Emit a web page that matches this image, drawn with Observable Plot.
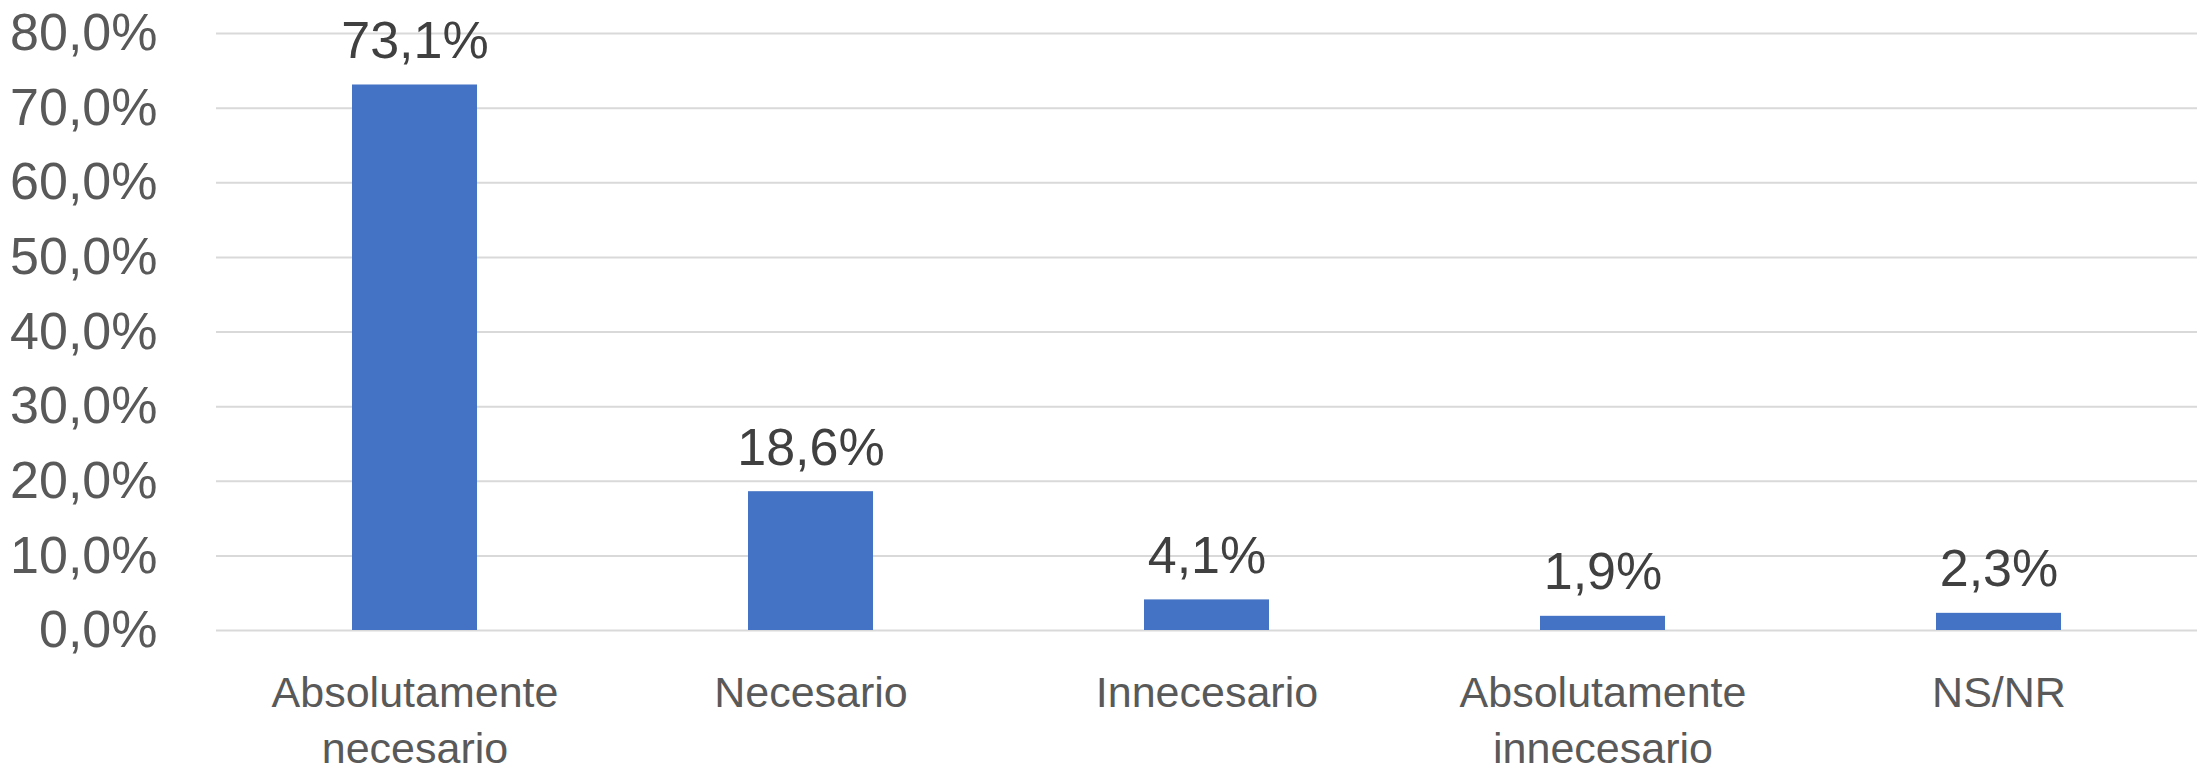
<!DOCTYPE html>
<html><head><meta charset="utf-8">
<script src="https://cdn.jsdelivr.net/npm/d3@7"></script>
<script src="https://cdn.jsdelivr.net/npm/@observablehq/plot@0.6"></script>
<style>html,body{margin:0;padding:0;background:#fff;}</style>
</head><body><div id="chart"></div>
<script>
const categories = ["Absolutamente necesario", "Necesario", "Innecesario", "Absolutamente innecesario", "NS/NR"];
const categoryLabels = ["Absolutamente\nnecesario", "Necesario", "Innecesario", "Absolutamente\ninnecesario", "NS/NR"];
const values = [73.1, 18.6, 4.1, 1.9, 2.3];
const yTicks = [0, 10, 20, 30, 40, 50, 60, 70, 80];

const data = categories.map((c, i) => ({category: c, value: values[i]}));
const fmt = v => d3.format(".1f")(v).replace(".", ",") + "%";

const chart = Plot.plot({
  width: 2204, height: 770,
  marginLeft: 216, marginRight: 7, marginTop: 33, marginBottom: 140,
  style: {fontFamily: "'Liberation Sans', Arial, sans-serif", background: "#fff", overflow: "visible"},
  x: {domain: categories, paddingInner: 0.684, paddingOuter: 0.342, axis: null},
  y: {domain: [0, 80], axis: null},
  marks: [
    Plot.gridY(yTicks, {stroke: "#d9d9d9", strokeOpacity: 1, strokeWidth: 2}),
    Plot.barY(data, {x: "category", y: "value", fill: "#4472C4"}),
    Plot.text(data, {x: "category", y: "value", text: d => fmt(d.value), dy: -27, lineAnchor: "bottom", fontSize: 52, fill: "#404040"}),
    Plot.axisY(yTicks, {tickSize: 0, tickPadding: 59, tickFormat: fmt, fontSize: 52, color: "#595959", label: null}),
    Plot.axisX({tickSize: 0, tickPadding: 37, tickFormat: d => categoryLabels[categories.indexOf(d)], fontSize: 43, lineHeight: 1.3, color: "#595959", label: null})
  ]
});
document.getElementById("chart").append(chart);
</script>
</body></html>
